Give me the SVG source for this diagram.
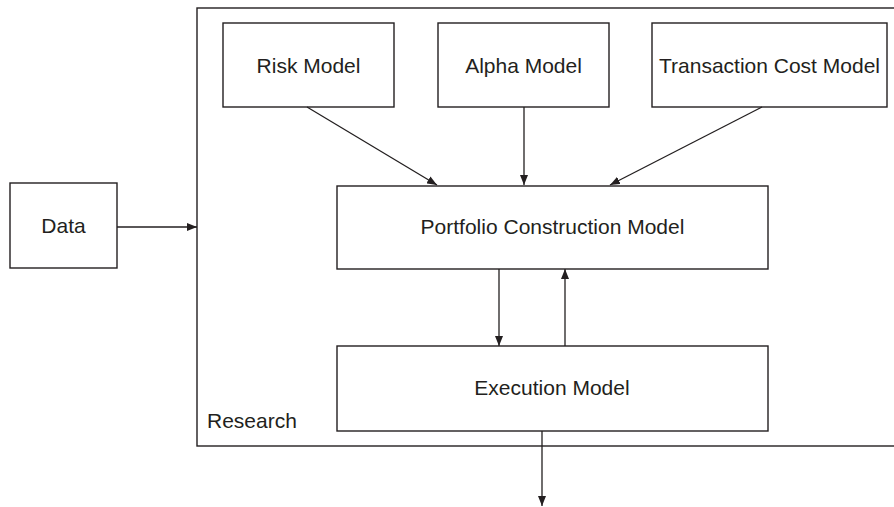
<svg xmlns="http://www.w3.org/2000/svg" width="894" height="507" viewBox="0 0 894 507">
<style>
.box{fill:#fff;stroke:#231f20;stroke-width:1.4}
.lbl{font-family:"Liberation Sans",Arial,sans-serif;font-size:21px;fill:#231f20;text-anchor:middle}
.conn{stroke:#231f20;stroke-width:1.3;fill:none;marker-end:url(#ah)}
</style>
<defs>
<marker id="ah" viewBox="0 0 10 8" refX="10" refY="4" markerWidth="10" markerHeight="8" markerUnits="userSpaceOnUse" orient="auto">
<path d="M0,0 L10,4 L0,8 Z" fill="#231f20"/>
</marker>
</defs>
<rect width="894" height="507" fill="#fff"/>
<g id="research">
<rect class="box" x="197" y="8" width="700" height="438"/>
<text x="207" y="428" style="font-family:'Liberation Sans',Arial,sans-serif;font-size:21px;fill:#231f20">Research</text>
</g>
<g id="data">
<rect class="box" x="10" y="183" width="107" height="85"/>
<text class="lbl" x="63.5" y="233">Data</text>
</g>
<g id="risk">
<rect class="box" x="223" y="23" width="171" height="84"/>
<text class="lbl" x="308.5" y="73">Risk Model</text>
</g>
<g id="alpha">
<rect class="box" x="438" y="23" width="171" height="84"/>
<text class="lbl" x="523.5" y="73">Alpha Model</text>
</g>
<g id="tcost">
<rect class="box" x="652" y="23" width="235" height="84"/>
<text class="lbl" x="769.5" y="73">Transaction Cost Model</text>
</g>
<g id="portfolio">
<rect class="box" x="337" y="186" width="431" height="83"/>
<text class="lbl" x="552.5" y="234">Portfolio Construction Model</text>
</g>
<g id="execution">
<rect class="box" x="337" y="346" width="431" height="85"/>
<text class="lbl" x="552" y="395">Execution Model</text>
</g>
<g id="connectors">
<line class="conn" x1="117" y1="227" x2="197" y2="227"/>
<line class="conn" x1="307" y1="107" x2="437" y2="185"/>
<line class="conn" x1="524" y1="107" x2="524" y2="185"/>
<line class="conn" x1="762" y1="107" x2="610" y2="185"/>
<line class="conn" x1="499" y1="269" x2="499" y2="346"/>
<line class="conn" x1="565" y1="346" x2="565" y2="269"/>
<line class="conn" x1="542" y1="431" x2="542" y2="506"/>
</g>
</svg>
